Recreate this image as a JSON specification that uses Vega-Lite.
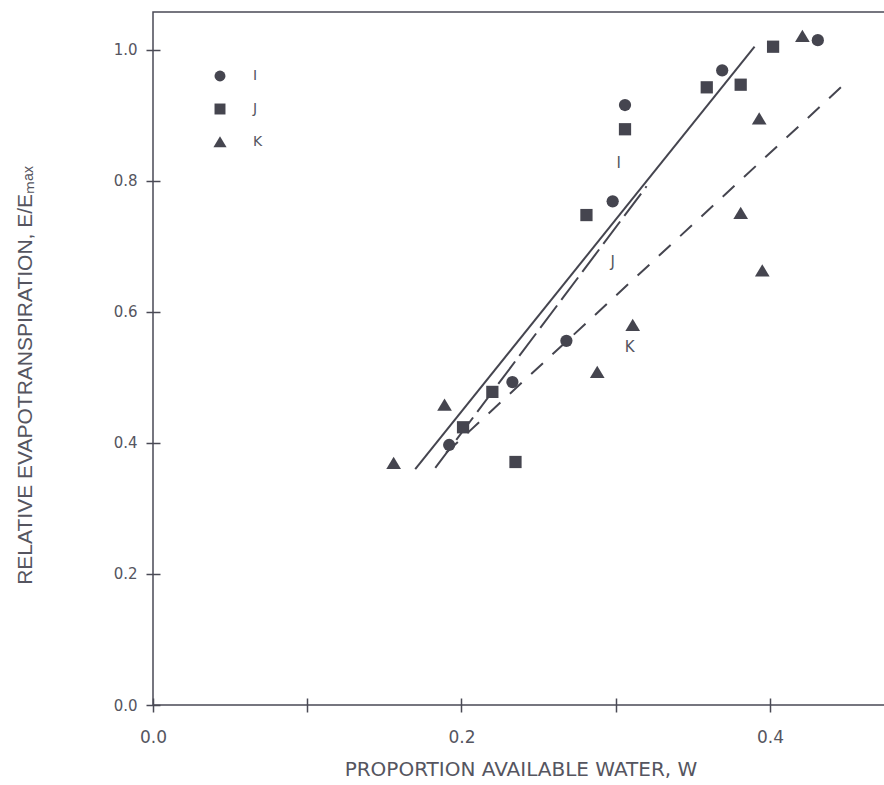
{
  "$schema": "https://vega.github.io/schema/vega-lite/v6.json",
  "width": 735,
  "height": 693,
  "autosize": {"type": "none"},
  "padding": {"left": 153, "top": 12, "right": 0, "bottom": 80},
  "background": "white",
  "config": {
    "view": {"stroke": "#4a4a55", "strokeWidth": 1.5},
    "font": "Liberation Sans"
  },
  "datasets": {
    "pts": [
      {"w": 0.192, "r": 0.397, "site": "I"},
      {"w": 0.233, "r": 0.493, "site": "I"},
      {"w": 0.268, "r": 0.556, "site": "I"},
      {"w": 0.298, "r": 0.769, "site": "I"},
      {"w": 0.306, "r": 0.916, "site": "I"},
      {"w": 0.369, "r": 0.969, "site": "I"},
      {"w": 0.431, "r": 1.015, "site": "I"},
      {"w": 0.201, "r": 0.424, "site": "J"},
      {"w": 0.220, "r": 0.478, "site": "J"},
      {"w": 0.235, "r": 0.371, "site": "J"},
      {"w": 0.281, "r": 0.748, "site": "J"},
      {"w": 0.306, "r": 0.879, "site": "J"},
      {"w": 0.359, "r": 0.943, "site": "J"},
      {"w": 0.381, "r": 0.947, "site": "J"},
      {"w": 0.402, "r": 1.005, "site": "J"},
      {"w": 0.156, "r": 0.369, "site": "K"},
      {"w": 0.189, "r": 0.458, "site": "K"},
      {"w": 0.288, "r": 0.508, "site": "K"},
      {"w": 0.311, "r": 0.580, "site": "K"},
      {"w": 0.381, "r": 0.751, "site": "K"},
      {"w": 0.393, "r": 0.895, "site": "K"},
      {"w": 0.395, "r": 0.663, "site": "K"},
      {"w": 0.421, "r": 1.021, "site": "K"}
    ],
    "fits": [
      {"w": 0.170, "r": 0.360, "fit": "I"},
      {"w": 0.390, "r": 1.005, "fit": "I"},
      {"w": 0.183, "r": 0.362, "fit": "J"},
      {"w": 0.320, "r": 0.792, "fit": "J"},
      {"w": 0.190, "r": 0.385, "fit": "K"},
      {"w": 0.451, "r": 0.954, "fit": "K"}
    ],
    "labels": [
      {"w": 0.302, "r": 0.827, "fit": "I"},
      {"w": 0.298, "r": 0.676, "fit": "J"},
      {"w": 0.309, "r": 0.547, "fit": "K"}
    ]
  },
  "encoding": {
    "x": {
      "field": "w",
      "type": "quantitative",
      "scale": {"domain": [0, 0.4765], "nice": false, "zero": false},
      "axis": {
        "title": "PROPORTION AVAILABLE WATER, W",
        "values": [0, 0.1, 0.2, 0.3, 0.4],
        "labelExpr": "round(datum.value*10)%2==0 ? format(datum.value,'.1f') : ''",
        "labelFlush": false,
        "offset": -7,
        "domain": false,
        "grid": false,
        "tickSize": 14,
        "tickWidth": 1.5,
        "tickColor": "#4a4a55",
        "labelPadding": 17,
        "labelFontSize": 17,
        "labelColor": "#555560",
        "labelFont": "DejaVu Sans",
        "titleFont": "DejaVu Sans",
        "titleFontSize": 20,
        "titleFontWeight": "normal",
        "titleColor": "#555560",
        "titlePadding": 14
      }
    },
    "y": {
      "field": "r",
      "type": "quantitative",
      "scale": {"domain": [0, 1.058], "nice": false, "zero": false},
      "axis": {
        "title": "RELATIVE EVAPOTRANSPIRATION,  E/Eₘₐₓ",
        "values": [0, 0.2, 0.4, 0.6, 0.8, 1.0],
        "format": ".1f",
        "labelFlush": false,
        "offset": -7,
        "domain": false,
        "grid": false,
        "tickSize": 14,
        "tickWidth": 1.5,
        "tickColor": "#4a4a55",
        "labelPadding": 9,
        "labelFontSize": 15,
        "labelColor": "#555560",
        "labelFont": "DejaVu Sans",
        "titleFont": "Liberation Sans",
        "titleFontSize": 21,
        "titleFontWeight": "normal",
        "titleColor": "#555560",
        "titlePadding": 78,
        "titleY": 363
      }
    }
  },
  "layer": [
    {
      "data": {"name": "fits"},
      "transform": [{"filter": "datum.fit == 'I'"}],
      "mark": {"type": "line", "color": "#45454f", "strokeWidth": 2},
      "encoding": {}
    },
    {
      "data": {"name": "fits"},
      "transform": [{"filter": "datum.fit == 'J'"}],
      "mark": {"type": "line", "color": "#45454f", "strokeWidth": 2, "strokeDash": [28, 7]},
      "encoding": {}
    },
    {
      "data": {"name": "fits"},
      "transform": [{"filter": "datum.fit == 'K'"}],
      "mark": {"type": "line", "color": "#45454f", "strokeWidth": 2, "strokeDash": [16, 13]},
      "encoding": {}
    },
    {
      "data": {"name": "pts"},
      "mark": {"type": "point", "filled": true, "opacity": 1, "color": "#45454f"},
      "encoding": {
        "shape": {
          "field": "site",
          "type": "nominal",
          "scale": {"domain": ["I", "J", "K"], "range": ["circle", "square", "M0,-1.05L1.2,0.95L-1.2,0.95Z"]},
          "legend": {
            "title": null,
            "orient": "none",
            "legendX": 60,
            "legendY": 57,
            "symbolFillColor": "#45454f",
            "symbolStrokeColor": "#45454f",
            "symbolOpacity": 1,
            "symbolSize": 120,
            "labelFont": "DejaVu Sans",
            "labelFontSize": 14,
            "labelColor": "#555560",
            "labelOffset": 26,
            "rowPadding": 15
          }
        },
        "size": {"value": 150}
      }
    },
    {
      "data": {"name": "labels"},
      "mark": {"type": "text", "fontSize": 15, "color": "#555560", "font": "DejaVu Sans"},
      "encoding": {"text": {"field": "fit"}}
    }
  ]
}
